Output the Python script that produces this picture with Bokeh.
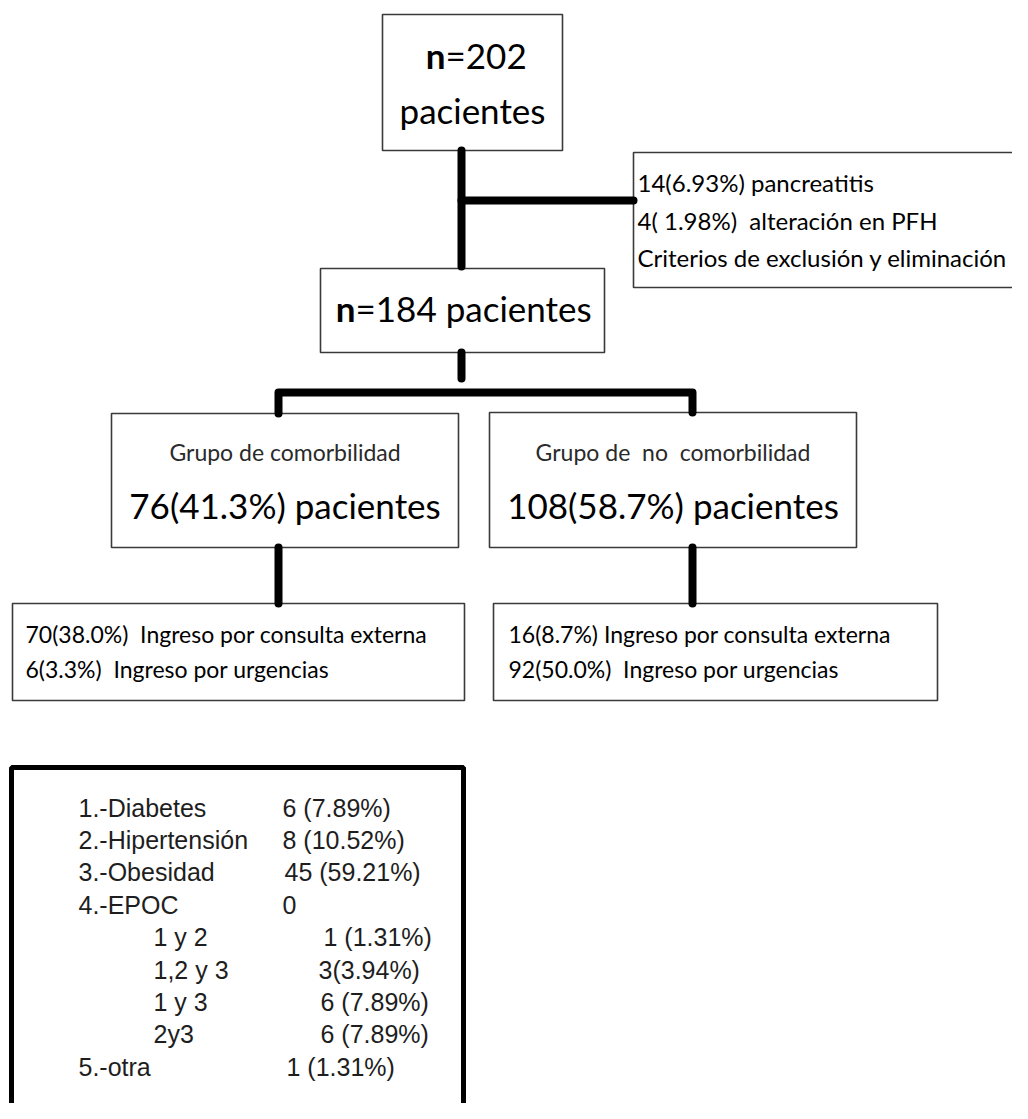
from bokeh.plotting import figure
from bokeh.models import Range1d
from bokeh.core.properties import value
from bokeh.embed import file_html
from bokeh.resources import INLINE

# ---------------- data (texts and counts) ----------------
total_label = ["n", "=202", "pacientes"]
included_label = ["n", "=184 pacientes"]
excl_lines = ["14(6.93%) pancreatitis",
              "4( 1.98%)  alteración en PFH",
              "Criterios de exclusión y eliminación"]
group_titles = ["Grupo de comorbilidad", "Grupo de  no  comorbilidad"]
group_counts = ["76(41.3%) pacientes", "108(58.7%) pacientes"]
left_admission = ["70(38.0%)  Ingreso por consulta externa",
                  "6(3.3%)  Ingreso por urgencias"]
right_admission = ["16(8.7%) Ingreso por consulta externa",
                   "92(50.0%)  Ingreso por urgencias"]
comorb_labels = ["1.-Diabetes", "2.-Hipertensión", "3.-Obesidad", "4.-EPOC",
                 "1 y 2", "1,2 y 3", "1 y 3", "2y3", "5.-otra"]
comorb_values = ["6 (7.89%)", "8 (10.52%)", "45 (59.21%)", "0",
                 "1 (1.31%)", "3(3.94%)", "6 (7.89%)", "6 (7.89%)", "1 (1.31%)"]

# ---------------- layout (page pixel coordinates) ----------------
W, H = 1012, 1103
p = figure(width=W, height=H, output_backend="svg", toolbar_location=None,
           x_range=Range1d(0, W), y_range=Range1d(H, 0),
           min_border=0, outline_line_color=None)
p.axis.visible = False
p.grid.visible = False
p.background_fill_color = "white"
p.border_fill_color = "white"

BOX_LINE = "#3a3a3a"
CAL = value("Lato")
ARI = value("Liberation Sans")


def keep_spaces(s):
    # keep the double spaces of the original (SVG collapses plain runs)
    return s.replace("  ", " \u00a0")


# boxes: left, right, top, bottom
boxes = [
    (382, 562, 14, 150),    # total
    (633, 1040, 152, 287),  # exclusion
    (320, 604, 268, 352),   # included
    (111, 458, 413, 547),   # comorbidity group
    (489, 856, 412, 547),   # no comorbidity group
    (12, 464, 603, 700),    # left admission
    (493, 937, 603, 700),   # right admission
]
p.quad(left=[b[0] for b in boxes], right=[b[1] for b in boxes],
       top=[b[2] for b in boxes], bottom=[b[3] for b in boxes],
       fill_color="white", line_color=BOX_LINE, line_width=1.6)

# bottom comorbidity box (thick border, runs off the page)
p.quad(left=[11], right=[463], top=[767], bottom=[1200],
       fill_color="white", line_color="black", line_width=5)

# connectors
LW = 8
segs_x = [[461, 461], [461, 633], [461, 461], [278, 278, 692, 692],
          [278, 278], [692, 692]]
segs_y = [[150, 266], [200, 200], [352, 378], [413, 392, 392, 412],
          [547, 603], [547, 603]]
p.multi_line(xs=segs_x, ys=segs_y, line_color="black", line_width=LW,
             line_cap="round", line_join="round")


def txt(x, y, s, size, align="left", font=CAL, style="normal", color="black"):
    p.text(x=[x], y=[y], text=[keep_spaces(s)], text_font=font,
           text_font_size=f"{size}px", text_align=align,
           text_baseline="middle", text_color=color, text_font_style=style)


# total box
txt(445, 54, total_label[0], 35, "right", style="bold")
txt(445, 54, total_label[1], 35, "left")
txt(472, 109, total_label[2], 35, "center")

# exclusion box
for i, s in enumerate(excl_lines):
    txt(637, 182 + i * 37.5, s, 24)

# included box
txt(355, 307, included_label[0], 35, "right", style="bold")
txt(355, 307, included_label[1], 35, "left")

# group boxes
gcx = [284.5, 672.5]
for i in range(2):
    txt(gcx[i], 451, group_titles[i], 23, "center", color="#2a2a2a")
    txt(gcx[i], 504, group_counts[i], 35, "center")

# admission boxes
for i, s in enumerate(left_admission):
    txt(25, 633 + i * 35, s, 23)
for i, s in enumerate(right_admission):
    txt(508, 633 + i * 35, s, 23)

# comorbidity list
indent = [0, 0, 0, 0, 1, 1, 1, 1, 0]
val_x = [282, 282, 284, 282, 323, 318, 320, 320, 286]
for i, (lab, v) in enumerate(zip(comorb_labels, comorb_values)):
    y = 807 + i * 32.4
    txt(153 if indent[i] else 78, y, lab, 25, font=ARI, color="#1e1e1e")
    txt(val_x[i], y, v, 25, font=ARI, color="#1e1e1e")

open("out.html", "w").write(file_html(p, INLINE))
